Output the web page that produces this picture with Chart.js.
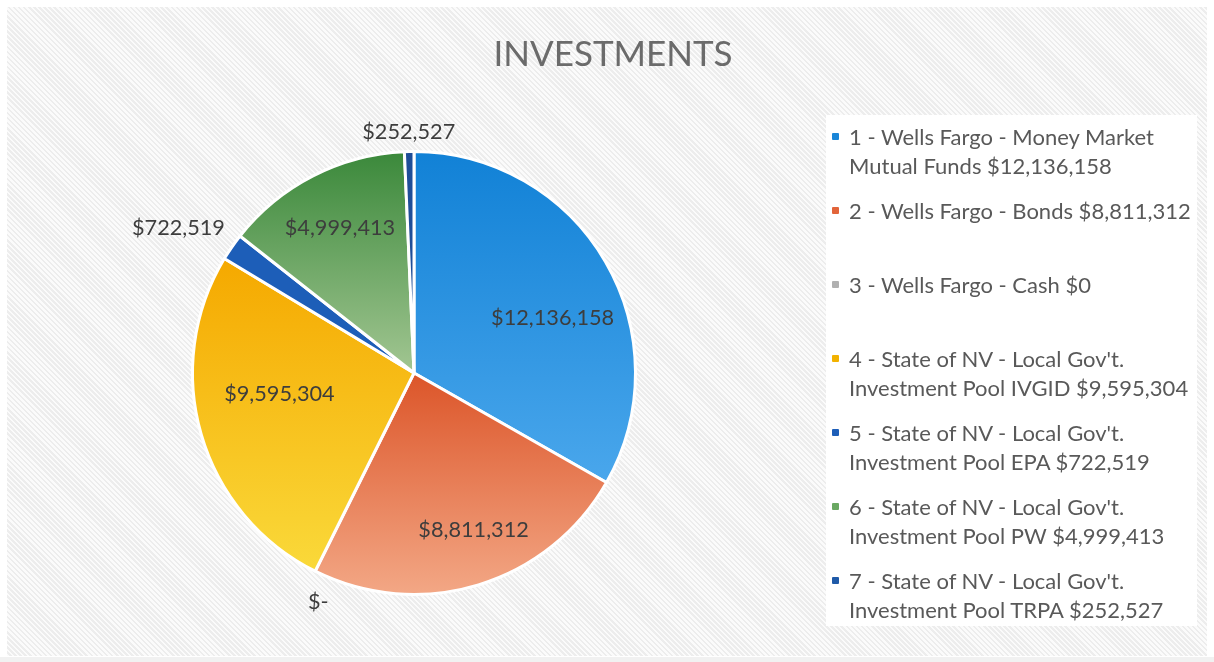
<!DOCTYPE html>
<html><head><meta charset="utf-8">
<script src="https://cdn.jsdelivr.net/npm/chart.js@4.4.0/dist/chart.umd.min.js"></script>
<style>
html,body{margin:0;padding:0;background:#fff;}
#wrap{position:relative;width:1214px;height:662px;overflow:hidden;background:#fff;}
#panel{position:absolute;left:7px;top:7px;width:1200px;height:649px;background:repeating-linear-gradient(45deg,#fbfbfb 0 1.8px,#ededed 1.8px 3.6px);}
#bottomstrip{position:absolute;left:0;top:657px;width:1214px;height:5px;background:#f1f1f1;}
canvas{position:absolute;left:0;top:0;}
#legend{position:absolute;left:826px;top:115px;width:371px;height:511px;background:#fff;font-family:Lato,sans-serif;font-size:22px;color:#595959;}
.item{position:absolute;left:23px;width:352px;line-height:29px;}
.mk{position:absolute;left:-17px;top:11px;width:7px;height:7px;border-radius:1px;}
</style></head>
<body>
<div id="wrap">
  <div id="panel"></div>
  <div id="bottomstrip"></div>
  <canvas id="c" width="1214" height="662"></canvas>
  <div id="legend"></div>
</div>
<script>
// ---- data ----
const categories = [
  "1 - Wells Fargo - Money Market Mutual Funds",
  "2 - Wells Fargo - Bonds",
  "3 - Wells Fargo - Cash",
  "4 - State of NV - Local Gov't. Investment Pool IVGID",
  "5 - State of NV - Local Gov't. Investment Pool EPA",
  "6 - State of NV - Local Gov't. Investment Pool PW",
  "7 - State of NV - Local Gov't. Investment Pool TRPA"
];
const values = [12136158, 8811312, 0, 9595304, 722519, 4999413, 252527];
const chartTitle = "INVESTMENTS";

// ---- styles ----
const topColors    = ["#1181d6", "#dc5529", "#a5a5a5", "#f5a900", "#1d5eb8", "#3a883a", "#1f4e98"];
const bottomColors = ["#4aa7ec", "#f3a886", "#a5a5a5", "#fadb3c", "#1d5eb8", "#a2c692", "#1f4e98"];
const legendColors = ["#1a86d8", "#e2643a", "#b0b0b0", "#f2b200", "#1d5eb8", "#6aa862", "#1f5aa8"];
const gradFrom = [0.0, 0.5, 0.5, 0.25, 0.0, 0.0, 0.0];
const gradTo   = [0.75, 1.0, 1.0, 0.97, 0.5, 0.5, 0.1];
const labelRadius = [0.673, 0.76, 1.12, 0.615, 1.248, 0.733, 1.09];
const labelNudgeDeg = [8.6, -3.8, -3.8, 7.4, -3.1, 0, 0];

function fmtMoney(v){ return v === 0 ? "$-" : "$" + v.toLocaleString("en-US"); }

const labelPlugin = {
  id: "sliceLabels",
  afterDatasetsDraw(chart){
    const ctx = chart.ctx;
    const meta = chart.getDatasetMeta(0);
    meta.data.forEach((arc, i) => {
      const p = arc.getProps(["x","y","startAngle","endAngle","outerRadius"], true);
      const mid = (p.startAngle + p.endAngle)/2 + labelNudgeDeg[i]*Math.PI/180;
      const r = p.outerRadius * labelRadius[i];
      const lx = p.x + Math.cos(mid)*r, ly = p.y + Math.sin(mid)*r;
      ctx.save();
      ctx.font = "21.7px Lato, sans-serif";
      ctx.fillStyle = "#3d3d3d";
      ctx.textAlign = "center";
      ctx.textBaseline = "middle";
      ctx.fillText(fmtMoney(values[i]), lx, ly);
      ctx.restore();
    });
  }
};

const titlePlugin = {
  id: "pageTitle",
  afterDraw(chart){
    const ctx = chart.ctx;
    ctx.save();
    ctx.font = "35px Lato, sans-serif";
    ctx.fillStyle = "#6b6b6b";
    ctx.textAlign = "center";
    ctx.textBaseline = "middle";
    ctx.fillText(chartTitle, chart.width/2 + 6, 55);
    ctx.restore();
  }
};

new Chart(document.getElementById("c"), {
  type: "pie",
  data: {
    labels: categories,
    datasets: [{
      data: values,
      backgroundColor(ctx){
        const i = ctx.dataIndex;
        const a = ctx.chart.chartArea;
        if (!a) return topColors[i];
        const g = ctx.chart.ctx.createLinearGradient(0, a.top + a.height*gradFrom[i], 0, a.top + a.height*gradTo[i]);
        g.addColorStop(0, topColors[i]);
        g.addColorStop(1, bottomColors[i]);
        return g;
      },
      borderColor: "#ffffff",
      borderWidth: 3
    }]
  },
  options: {
    responsive: false,
    animation: false,
    devicePixelRatio: 1,
    layout: { padding: { top: 150, left: 191, right: 577, bottom: 66 } },
    plugins: {
      legend: { display: false },
      tooltip: { enabled: false },
      title: { display: false }
    }
  },
  plugins: [labelPlugin, titlePlugin]
});

// ---- HTML legend ----
const leg = document.getElementById("legend");
categories.forEach((c, i) => {
  const d = document.createElement("div");
  d.className = "item";
  d.style.top = (6.5 + 74*i) + "px";
  const m = document.createElement("span");
  m.className = "mk";
  m.style.background = legendColors[i];
  d.appendChild(m);
  d.appendChild(document.createTextNode(c + " $" + values[i].toLocaleString("en-US")));
  leg.appendChild(d);
});
</script>
</body></html>
